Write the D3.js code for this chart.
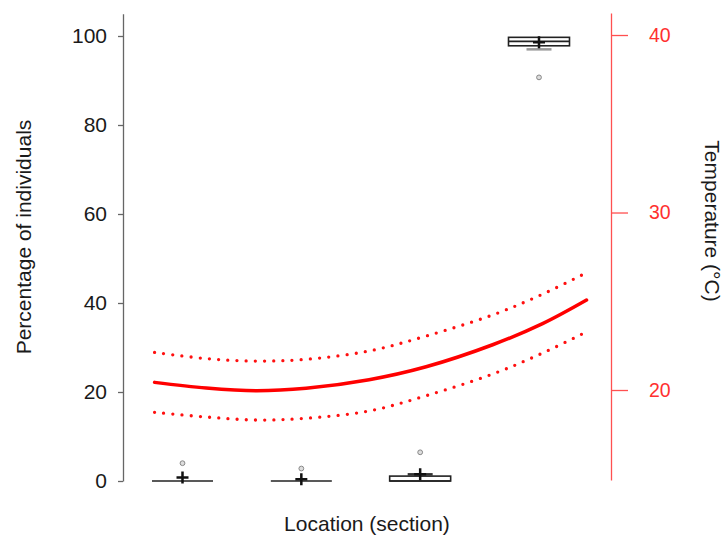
<!DOCTYPE html>
<html>
<head>
<meta charset="utf-8">
<script src="https://cdn.jsdelivr.net/npm/d3@7"></script>
<style>
  html, body { margin: 0; padding: 0; background: #fff; }
  svg { display: block; font-family: "Liberation Sans", Arial, sans-serif; }
</style>
</head>
<body>
<svg id="chart" width="723" height="539"></svg>
<script>
// ---------- data ----------
const locations = [1, 2, 3, 4];
const boxQ1     = [0, 0, 0, 97.8];
const boxMedian = [0, 0, 0, 98.8];
const boxQ3     = [0, 0, 1.1, 99.7];
const whiskerLo = [0, 0, 0, 97.0];
const whiskerHi = [0, 0, 1.5, 99.7];
const boxMean   = [0.8, 0.4, 1.5, 98.6];
const outliers  = [[4.0], [2.8], [6.45], [90.7]];

const curveLoc  = [0.765, 1.2, 1.62, 2.04, 2.57, 3.05, 3.61, 4.03, 4.40];
const tempFit   = [20.43, 20.11, 19.96, 20.10, 20.58, 21.31, 22.55, 23.74, 25.07];
const tempUpper = [22.12, 21.77, 21.63, 21.73, 22.20, 23.04, 24.23, 25.40, 26.61];
const tempLower = [18.74, 18.48, 18.31, 18.41, 18.82, 19.68, 20.90, 22.08, 23.28];

const pctTicks  = [0, 20, 40, 60, 80, 100];
const tempTicks = [20, 30, 40];

// ---------- scales ----------
const svg = d3.select("#chart");
const x = d3.scaleLinear().domain([1, 4]).range([182.5, 539]);
const yL = d3.scaleLinear().domain([0, 105]).range([481, 13.75]);
const yR = d3.scaleLinear().domain([14.93, 41.24]).range([480, 13]);
const boxW = 61;

// ---------- left axis ----------
const gL = svg.append("g").attr("transform", "translate(123,0)")
  .call(d3.axisLeft(yL).tickValues(pctTicks).tickSize(5).tickSizeOuter(0).tickPadding(11));
gL.select(".domain").attr("stroke", "#666").attr("stroke-width", 1.3);
gL.selectAll(".tick line").attr("stroke", "#666").attr("stroke-width", 1.3);
gL.selectAll(".tick text").attr("fill", "#1a1a1a").style("font-size", "21px");

// ---------- right axis ----------
const gR = svg.append("g").attr("transform", "translate(611,0)")
  .call(d3.axisRight(yR).tickValues(tempTicks).tickSize(17).tickSizeOuter(0).tickPadding(21));
gR.select(".domain").attr("stroke", "#ff5050").attr("stroke-width", 1.3);
gR.selectAll(".tick line").attr("stroke", "#ff5050").attr("stroke-width", 1.3);
gR.selectAll(".tick text").attr("fill", "#ff3030").style("font-size", "19.5px");

// ---------- boxplots ----------
const boxes = locations.map((l, i) => ({
  l, q1: boxQ1[i], med: boxMedian[i], q3: boxQ3[i],
  lo: whiskerLo[i], hi: whiskerHi[i], mean: boxMean[i], out: outliers[i]
}));
const gB = svg.append("g");
boxes.forEach(b => {
  const cx = x(b.l);
  if (b.hi > b.q3) {
    gB.append("line").attr("x1", cx).attr("x2", cx).attr("y1", yL(b.q3)).attr("y2", yL(b.hi))
      .attr("stroke", "#222").attr("stroke-width", 1.2);
    gB.append("line").attr("x1", cx - 12.5).attr("x2", cx + 12.5).attr("y1", yL(b.hi)).attr("y2", yL(b.hi))
      .attr("stroke", "#333").attr("stroke-width", 2.5);
  }
  if (b.lo < b.q1) {
    gB.append("line").attr("x1", cx).attr("x2", cx).attr("y1", yL(b.q1)).attr("y2", yL(b.lo))
      .attr("stroke", "#222").attr("stroke-width", 1.2);
    gB.append("line").attr("x1", cx - 12.5).attr("x2", cx + 12.5).attr("y1", yL(b.lo)).attr("y2", yL(b.lo))
      .attr("stroke", "#999").attr("stroke-width", 2.5);
  }
  gB.append("rect").attr("x", cx - boxW / 2).attr("width", boxW)
    .attr("y", yL(b.q3)).attr("height", Math.max(0, yL(b.q1) - yL(b.q3)))
    .attr("fill", "#fff").attr("stroke", "#222").attr("stroke-width", 1.6);
  gB.append("line").attr("x1", cx - boxW / 2).attr("x2", cx + boxW / 2)
    .attr("y1", yL(b.med)).attr("y2", yL(b.med)).attr("stroke", "#222").attr("stroke-width", 1.7);
  b.out.forEach(o => {
    gB.append("circle").attr("cx", cx).attr("cy", yL(o)).attr("r", 2.4)
      .attr("fill", "#ddd").attr("stroke", "#888").attr("stroke-width", 1);
  });
  const my = yL(b.mean);
  gB.append("path").attr("d", `M${cx - 6},${my}H${cx + 6}M${cx},${my - 6}V${my + 6}`)
    .attr("stroke", "#111").attr("stroke-width", 2.5).attr("fill", "none");
});

// ---------- temperature curves ----------
const line = vals => d3.line()
  .x((d, i) => x(curveLoc[i]))
  .y(d => yR(d))
  .curve(d3.curveCatmullRom.alpha(0.5))(vals);

svg.append("path").attr("d", line(tempFit)).attr("fill", "none")
  .attr("stroke", "#ff0000").attr("stroke-width", 3.5).attr("stroke-linecap", "round");
[tempUpper, tempLower].forEach(v => {
  svg.append("path").attr("d", line(v)).attr("fill", "none")
    .attr("stroke", "#ff1010").attr("stroke-width", 3.3)
    .attr("stroke-linecap", "round").attr("stroke-dasharray", "0 9.2");
});

// ---------- titles ----------
svg.append("text").attr("transform", "translate(31,237) rotate(-90)")
  .attr("text-anchor", "middle").attr("fill", "#1a1a1a").style("font-size", "21px")
  .text("Percentage of individuals");
svg.append("text").attr("x", 367).attr("y", 531)
  .attr("text-anchor", "middle").attr("fill", "#1a1a1a").style("font-size", "21px")
  .text("Location (section)");
svg.append("text").attr("transform", "translate(705,221) rotate(90)")
  .attr("text-anchor", "middle").attr("fill", "#1a1a1a").style("font-size", "21px")
  .text("Temperature (°C)");
</script>
</body>
</html>
